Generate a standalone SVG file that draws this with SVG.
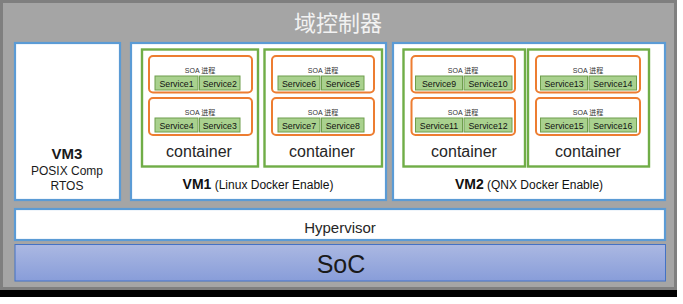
<svg xmlns="http://www.w3.org/2000/svg" width="683" height="304" viewBox="0 0 683 304">
<defs>
<linearGradient id="socg" x1="0" y1="0" x2="0" y2="1">
<stop offset="0" stop-color="#abb8e2"/>
<stop offset="1" stop-color="#889dd9"/>
</linearGradient>
<style>
.blue{fill:#fff;stroke:#5b9bd5;stroke-width:2.2}
.cont{fill:#fff;stroke:#70ad47;stroke-width:2.4}
.proc{fill:#fff;stroke:#ed7d31;stroke-width:2}
.svc{fill:#a9d18e;stroke:#6e9e4c;stroke-width:1}
.t{font-family:"Liberation Sans",Arial,"Noto Sans CJK SC",sans-serif;fill:#1a1a1a;text-anchor:middle}
.st{font-size:8.8px;fill:#111}
.soa{font-size:7px;fill:#333}
.ct{font-size:16px;fill:#262626}
.vm{font-size:14px;font-weight:bold;fill:#111}
.vms{font-size:12px;fill:#111}
</style>
</defs>
<rect x="0" y="0" width="683" height="304" fill="#fff"/>
<rect x="0" y="290" width="677" height="7" fill="#000"/>
<g id="domain">
<rect x="1.5" y="1.5" width="674" height="287" fill="#a5a5a5" stroke="#7f7f7f" stroke-width="3"/>
<text class="t" x="338" y="31" style="font-size:22px;fill:#f2f2f2;font-family:'Noto Sans CJK SC',sans-serif">域控制器</text>
</g>
<g id="vm3">
<rect class="blue" x="15" y="43" width="105" height="157"/>
<text class="t" x="67" y="159" style="font-size:15px;font-weight:bold">VM3</text>
<text class="t" x="67" y="175" style="font-size:12px">POSIX Comp</text>
<text class="t" x="67" y="190" style="font-size:12px">RTOS</text>
</g>
<g id="vm1">
<rect class="blue" x="131" y="43" width="255" height="157"/>
<text class="t" x="258" y="189"><tspan class="vm">VM1</tspan><tspan class="vms"> (Linux Docker Enable)</tspan></text>
</g>
<g id="vm2">
<rect class="blue" x="393" y="43" width="272" height="157"/>
<text class="t" x="529" y="189"><tspan class="vm">VM2</tspan><tspan class="vms"> (QNX Docker Enable)</tspan></text>
</g>
<g id="container1">
<rect class="cont" x="142" y="49.5" width="116" height="117"/>
<rect class="proc" x="149" y="56" width="103" height="36.5" rx="4"/>
<text class="t soa" x="200" y="73">SOA 进程</text>
<rect class="svc" x="155" y="76" width="43" height="14"/>
<rect class="svc" x="199.5" y="76" width="40.5" height="14"/>
<text class="t st" x="176.5" y="86.5">Service1</text>
<text class="t st" x="219.8" y="86.5">Service2</text>
<rect class="proc" x="149" y="98" width="103" height="37" rx="4"/>
<text class="t soa" x="200" y="115">SOA 进程</text>
<rect class="svc" x="155" y="118" width="43" height="14"/>
<rect class="svc" x="199.5" y="118" width="40.5" height="14"/>
<text class="t st" x="176.5" y="128.5">Service4</text>
<text class="t st" x="219.8" y="128.5">Service3</text>
<text class="t ct" x="199" y="157">container</text>
</g>
<g id="container2">
<rect class="cont" x="264.5" y="49.5" width="117.5" height="117"/>
<rect class="proc" x="272" y="56" width="102" height="36.5" rx="4"/>
<text class="t soa" x="323" y="73">SOA 进程</text>
<rect class="svc" x="278" y="76" width="42" height="14"/>
<rect class="svc" x="321.5" y="76" width="42.5" height="14"/>
<text class="t st" x="299" y="86.5">Service6</text>
<text class="t st" x="342.8" y="86.5">Service5</text>
<rect class="proc" x="272" y="98" width="102" height="37" rx="4"/>
<text class="t soa" x="323" y="115">SOA 进程</text>
<rect class="svc" x="278" y="118" width="42" height="14"/>
<rect class="svc" x="321.5" y="118" width="42.5" height="14"/>
<text class="t st" x="299" y="128.5">Service7</text>
<text class="t st" x="342.8" y="128.5">Service8</text>
<text class="t ct" x="322" y="157">container</text>
</g>
<g id="container3">
<rect class="cont" x="403.5" y="49.5" width="121.5" height="117"/>
<rect class="proc" x="411.5" y="56" width="103.5" height="36.5" rx="4"/>
<text class="t soa" x="463" y="73">SOA 进程</text>
<rect class="svc" x="415.5" y="76" width="47" height="14"/>
<rect class="svc" x="464" y="76" width="48" height="14"/>
<text class="t st" x="439" y="86.5">Service9</text>
<text class="t st" x="488" y="86.5">Service10</text>
<rect class="proc" x="411.5" y="98" width="103.5" height="37" rx="4"/>
<text class="t soa" x="463" y="115">SOA 进程</text>
<rect class="svc" x="415.5" y="118" width="47" height="14"/>
<rect class="svc" x="464" y="118" width="48" height="14"/>
<text class="t st" x="439" y="128.5">Service11</text>
<text class="t st" x="488" y="128.5">Service12</text>
<text class="t ct" x="464" y="157">container</text>
</g>
<g id="container4">
<rect class="cont" x="528" y="49.5" width="121" height="117"/>
<rect class="proc" x="536" y="56" width="104" height="36.5" rx="4"/>
<text class="t soa" x="588" y="73">SOA 进程</text>
<rect class="svc" x="540.5" y="76" width="47" height="14"/>
<rect class="svc" x="589" y="76" width="47.5" height="14"/>
<text class="t st" x="564" y="86.5">Service13</text>
<text class="t st" x="612.8" y="86.5">Service14</text>
<rect class="proc" x="536" y="98" width="104" height="37" rx="4"/>
<text class="t soa" x="588" y="115">SOA 进程</text>
<rect class="svc" x="540.5" y="118" width="47" height="14"/>
<rect class="svc" x="589" y="118" width="47.5" height="14"/>
<text class="t st" x="564" y="128.5">Service15</text>
<text class="t st" x="612.8" y="128.5">Service16</text>
<text class="t ct" x="588" y="157">container</text>
</g>
<g id="hypervisor">
<rect class="blue" x="15" y="209" width="650" height="31"/>
<text class="t" x="340" y="233" style="font-size:15px;fill:#262626">Hypervisor</text>
</g>
<g id="soc">
<rect x="15" y="244.5" width="650.5" height="36.5" fill="url(#socg)" stroke="#4472c4" stroke-width="1"/>
<text class="t" x="341" y="273" style="font-size:25px;fill:#1a1a1a">SoC</text>
</g>
<g id="connectors"></g>
</svg>
